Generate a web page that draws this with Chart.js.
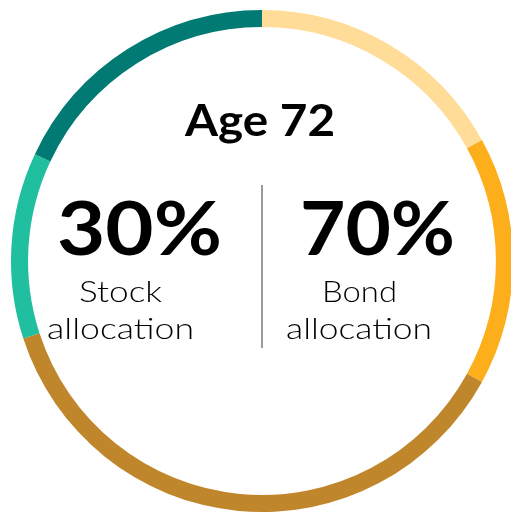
<!DOCTYPE html>
<html>
<head>
<meta charset="utf-8">
<script src="https://cdn.jsdelivr.net/npm/chart.js@4"></script>
<style>
  html, body { margin: 0; padding: 0; background: #fff; overflow: hidden; }
  #wrap { width: 524px; height: 514px; }
</style>
</head>
<body>
<div id="wrap"><canvas id="ageChart" width="524" height="514"></canvas></div>
<script>
// slices clockwise from 12 o'clock (percent of portfolio)
var labels = ["Bond A", "Bond B", "Bond C", "Stock A", "Stock B"];
var values = [17, 16, 37, 12, 18];
var colors = ["#FFDD99", "#FDAE1B", "#C0862C", "#1FBFA0", "#007A72"];

var title = "Age 72";
var stockPct = "30%";
var bondPct = "70%";

// draw text centred at cx, stretched to a given width
function fitText(ctx, text, font, cx, y, width) {
  ctx.font = font;
  var w = ctx.measureText(text).width;
  ctx.save();
  ctx.translate(cx, y);
  ctx.scale(width / w, 1);
  ctx.fillText(text, 0, 0);
  ctx.restore();
}

var centerText = {
  id: "centerText",
  afterDraw: function (chart) {
    var ctx = chart.ctx;
    ctx.save();
    ctx.fillStyle = "#000";
    ctx.textAlign = "center";
    ctx.textBaseline = "alphabetic";

    fitText(ctx, title, "bold 44px Lato", 260, 136, 150);

    fitText(ctx, stockPct, "bold 74px Lato", 139.5, 255, 165);
    fitText(ctx, bondPct, "bold 74px Lato", 377.5, 255, 155);

    fitText(ctx, "Stock", "300 29px Lato", 120.5, 302, 83);
    fitText(ctx, "allocation", "300 29px Lato", 120.5, 339, 147);
    fitText(ctx, "Bond", "300 29px Lato", 359.5, 302, 75);
    fitText(ctx, "allocation", "300 29px Lato", 359, 339, 146);

    ctx.strokeStyle = "#9a9a9a";
    ctx.lineWidth = 2;
    ctx.beginPath();
    ctx.moveTo(262, 185);
    ctx.lineTo(262, 348);
    ctx.stroke();
    ctx.restore();
  }
};

new Chart(document.getElementById("ageChart").getContext("2d"), {
  type: "doughnut",
  data: {
    labels: labels,
    datasets: [{
      data: values,
      backgroundColor: colors,
      borderWidth: 0
    }]
  },
  options: {
    responsive: false,
    animation: false,
    cutout: "93.2%",
    layout: { padding: { left: 11, right: 11, top: 10, bottom: 2 } },
    plugins: {
      legend: { display: false },
      tooltip: { enabled: false }
    }
  },
  plugins: [centerText]
});
</script>
</body>
</html>
